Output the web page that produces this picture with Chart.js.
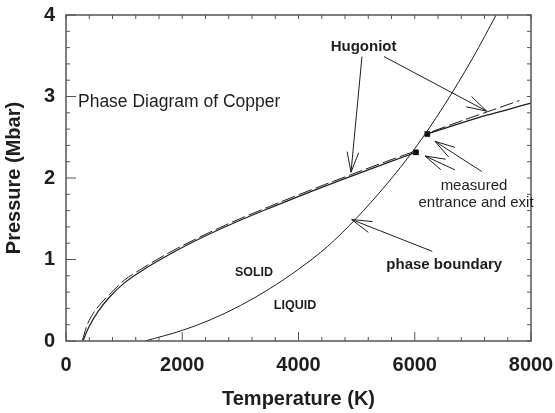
<!DOCTYPE html>
<html>
<head>
<meta charset="utf-8">
<script src="https://cdn.jsdelivr.net/npm/chart.js@4/dist/chart.umd.min.js"></script>
<style>
body { margin: 0; background: #fff; }
#wrap { width: 555px; height: 413px; }
</style>
</head>
<body>
<div id="wrap"><canvas id="phaseChart" width="555" height="413"></canvas></div>
<script>
// Phase Diagram of Copper - Hugoniot vs. phase boundary
const xTicks = [0, 2000, 4000, 6000, 8000];
const yTicks = [0, 1, 2, 3, 4];

// Hugoniot, solid line (below / above the measured points)
const hugLoT = [290, 400, 550, 750, 1000, 1300, 1700, 2200, 2800, 3500, 4200, 4900, 5500, 6021];
const hugLoP = [0, 0.18, 0.36, 0.54, 0.71, 0.86, 1.03, 1.22, 1.42, 1.63, 1.83, 2.02, 2.18, 2.315];
const hugHiT = [6216, 6780, 7240, 7600, 8000];
const hugHiP = [2.54, 2.67, 2.77, 2.84, 2.92];

// Hugoniot, dashed line
const hugDashLoT = [280, 360, 470, 600, 814, 1000, 1300, 1700, 2200, 2800, 3500, 4200, 4900, 5500, 5970];
const hugDashLoP = [0, 0.19, 0.34, 0.46, 0.62, 0.745, 0.885, 1.055, 1.24, 1.44, 1.65, 1.85, 2.04, 2.2, 2.32];
const hugDashHiT = [6300, 6800, 7240, 7800];
const hugDashHiP = [2.57, 2.70, 2.81, 2.95];

// phase boundary (melt curve)
const meltT = [1360, 2000, 2500, 3000, 3500, 4000, 4500, 5000, 5500, 6000, 6500, 7000, 7400];
const meltP = [0, 0.13, 0.265, 0.435, 0.64, 0.88, 1.16, 1.51, 1.91, 2.36, 2.885, 3.475, 4.0];

// measured entrance and exit
const measT = [6021, 6216];
const measP = [2.315, 2.54];

const pts = (xs, ys) => xs.map((x, i) => ({x: x, y: ys[i]}));

const FONT = "'Liberation Sans', Arial, sans-serif";
const INK = '#1e1e1e';
const AXIS = '#555';

// text labels, placed in data units
const notes = [
    {text: 'Phase Diagram of Copper', t: 206, p: 2.875, font: '17.5px', align: 'left'},
    {text: 'Hugoniot', t: 5120, p: 3.558, font: 'bold 15px', align: 'center'},
    {text: 'measured', t: 7019, p: 1.853, font: '15px', align: 'center'},
    {text: 'entrance and exit', t: 7054, p: 1.64, font: '15px', align: 'center'},
    {text: 'phase boundary', t: 6508, p: 0.883, font: 'bold 15px', align: 'center'},
    {text: 'SOLID', t: 3234, p: 0.798, font: 'bold 12.5px', align: 'center'},
    {text: 'LIQUID', t: 3940, p: 0.393, font: 'bold 12.5px', align: 'center'}
];

// arrows: from -> tip
const arrows = [
    [5092, 3.49, 4903, 2.07],
    [5471, 3.49, 7238, 2.82],
    [7152, 2.08, 6348, 2.45],
    [6692, 2.10, 6176, 2.27],
    [6302, 1.10, 4915, 1.49]
];

const decor = {
    id: 'decor',
    afterDatasetsDraw(chart) {
        const {ctx, chartArea: a, scales: {x, y}} = chart;
        ctx.save();
        ctx.strokeStyle = AXIS;
        ctx.lineWidth = 1.5;
        ctx.strokeRect(a.left, a.top, a.right - a.left, a.bottom - a.top);

        // inward tick marks
        ctx.lineWidth = 1;
        ctx.beginPath();
        for (let i = 0; i <= 20; i++) {
            const px = x.getPixelForValue(i * 400);
            const len = i % 5 === 0 ? 9 : 4;
            ctx.moveTo(px, a.bottom); ctx.lineTo(px, a.bottom - len);
            ctx.moveTo(px, a.top); ctx.lineTo(px, a.top + 4);
        }
        for (let i = 0; i <= 20; i++) {
            const py = y.getPixelForValue(i * 0.2);
            const len = i % 5 === 0 ? 10 : 4;
            ctx.moveTo(a.left, py); ctx.lineTo(a.left + len, py);
            ctx.moveTo(a.right, py); ctx.lineTo(a.right - 4, py);
        }
        ctx.stroke();

        // arrows
        ctx.strokeStyle = INK;
        ctx.lineWidth = 1;
        arrows.forEach(([t0, p0, t1, p1]) => {
            const x0 = x.getPixelForValue(t0), y0 = y.getPixelForValue(p0);
            const x1 = x.getPixelForValue(t1), y1 = y.getPixelForValue(p1);
            const ang = Math.atan2(y0 - y1, x0 - x1);
            const spread = 16 * Math.PI / 180, len = 21;
            ctx.beginPath();
            ctx.moveTo(x0, y0); ctx.lineTo(x1, y1);
            ctx.moveTo(x1 + len * Math.cos(ang - spread), y1 + len * Math.sin(ang - spread));
            ctx.lineTo(x1, y1);
            ctx.lineTo(x1 + len * Math.cos(ang + spread), y1 + len * Math.sin(ang + spread));
            ctx.stroke();
        });

        // labels
        ctx.fillStyle = INK;
        ctx.textBaseline = 'alphabetic';
        notes.forEach(n => {
            ctx.font = n.font + ' ' + FONT;
            ctx.textAlign = n.align;
            ctx.fillText(n.text, x.getPixelForValue(n.t), y.getPixelForValue(n.p));
        });
        ctx.restore();
    }
};

const lineStyle = {
    borderColor: INK,
    pointRadius: 0,
    showLine: true,
    fill: false,
    cubicInterpolationMode: 'monotone'
};

new Chart(document.getElementById('phaseChart'), {
    type: 'scatter',
    data: {
        datasets: [
            Object.assign({label: 'Hugoniot', data: pts(hugLoT, hugLoP), borderWidth: 1.2}, lineStyle),
            Object.assign({label: 'Hugoniot (high)', data: pts(hugHiT, hugHiP), borderWidth: 1.3}, lineStyle),
            Object.assign({label: 'Hugoniot dashed', data: pts(hugDashLoT, hugDashLoP), borderWidth: 1, borderDash: [14, 4]}, lineStyle),
            Object.assign({label: 'Hugoniot dashed (high)', data: pts(hugDashHiT, hugDashHiP), borderWidth: 1, borderDash: [14, 4]}, lineStyle),
            Object.assign({label: 'phase boundary', data: pts(meltT, meltP), borderWidth: 1}, lineStyle),
            {
                label: 'measured',
                data: pts(measT, measP),
                showLine: false,
                pointStyle: 'rect',
                pointRadius: 4,
                backgroundColor: '#111',
                borderColor: '#111',
                borderWidth: 0
            }
        ]
    },
    options: {
        responsive: false,
        animation: false,
        layout: {padding: {left: 0, right: 24, top: 15, bottom: 0}},
        plugins: {legend: {display: false}, tooltip: {enabled: false}},
        scales: {
            x: {
                type: 'linear',
                min: 0,
                max: 8000,
                afterBuildTicks: s => { s.ticks = xTicks.map(v => ({value: v})); },
                afterFit: s => { s.height = 72; s.paddingLeft = 0; s.paddingRight = 0; },
                grid: {display: false, drawTicks: false},
                border: {display: false},
                ticks: {
                    padding: 12,
                    color: INK,
                    font: {family: FONT, size: 20, weight: 'bold'},
                    maxRotation: 0,
                    callback: v => String(v)
                },
                title: {
                    display: true,
                    text: 'Temperature (K)',
                    color: INK,
                    font: {family: FONT, size: 20, weight: 'bold'},
                    padding: {top: 0, bottom: 2}
                }
            },
            y: {
                type: 'linear',
                min: 0,
                max: 4,
                afterBuildTicks: s => { s.ticks = yTicks.map(v => ({value: v})); },
                afterFit: s => { s.width = 66; s.paddingTop = 0; s.paddingBottom = 0; },
                grid: {display: false, drawTicks: false},
                border: {display: false},
                ticks: {
                    padding: 11,
                    color: INK,
                    font: {family: FONT, size: 20, weight: 'bold'},
                    callback: v => String(v)
                },
                title: {
                    display: true,
                    text: 'Pressure (Mbar)',
                    color: INK,
                    font: {family: FONT, size: 20, weight: 'bold'},
                    padding: {top: 2, bottom: 0}
                }
            }
        }
    },
    plugins: [decor]
});
</script>
</body>
</html>
